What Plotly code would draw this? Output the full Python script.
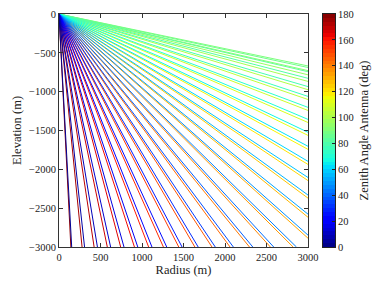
import numpy as np
import plotly.graph_objects as go

# ---- data (rays leaving the antenna at the origin) ----
# zenith angle of each ray (deg) and the point where it leaves the plotted box
zenith_deg = [3, 6, 9, 12, 15, 18, 21, 24, 27, 30, 33, 36, 39, 42, 45,
              48, 51, 54, 57, 60, 63, 66, 69, 72, 75, 78, 81, 84, 87, 90,
              93, 96, 99, 102, 105, 108, 111, 114, 117, 120, 123, 126, 129, 132,
              135, 138, 141, 144, 147, 150, 153, 156, 159, 162, 165, 168, 171, 174, 177]
end_radius_m = [153, 308, 463, 622, 783, 949, 1120, 1298, 1483, 1677, 1883, 2101, 2335, 2587, 2861,
                3000, 3000, 3000, 3000, 3000, 3000, 3000, 3000, 3000, 3000, 3000, 3000, 3000, 3000, 3000,
                3000, 3000, 3000, 3000, 3000, 3000, 3000, 3000, 3000, 3000, 3000, 3000, 3000, 3000,
                2821, 2547, 2295, 2061, 1843, 1637, 1443, 1258, 1080, 909, 743, 582, 423, 278, 143]
end_elevation_m = [-3000] * 15 + [
    -2847, -2577, -2331, -2105, -1897, -1703, -1523, -1357, -1202, -1061, -935, -828, -743, -689, -669,
    -729, -783, -868, -975, -1101, -1242, -1397, -1563, -1743, -1937, -2145, -2371, -2617, -2887] + [-3000] * 15

x_ticks = [0, 500, 1000, 1500, 2000, 2500, 3000]
x_tick_labels = ["0", "500", "1000", "1500", "2000", "2500", "3000"]
y_ticks = [0, -500, -1000, -1500, -2000, -2500, -3000]
y_tick_labels = ["0", "\u2212500", "\u22121000", "\u22121500", "\u22122000", "\u22122500", "\u22123000"]
cbar_ticks = [0, 20, 40, 60, 80, 100, 120, 140, 160, 180]
cmin, cmax = 0, 180
n_bands = 60


def jet(v):
    r = np.interp(v, [0, 0.35, 0.66, 0.89, 1], [0, 0, 1, 1, 0.5])
    g = np.interp(v, [0, 0.125, 0.375, 0.64, 0.91, 1], [0, 0, 1, 1, 0, 0])
    b = np.interp(v, [0, 0.11, 0.34, 0.65, 1], [0.5, 1, 1, 0, 0])
    return "rgb(%d,%d,%d)" % (round(r * 255), round(g * 255), round(b * 255))


jet_scale = [[s, jet(s)] for s in np.linspace(0, 1, 101)]

FONT = "Liberation Serif, DejaVu Serif, serif"
TXT = "#222"
W, H = 382, 286
ML, MR, MT, MB = 59, 10, 14, 39
PW = W - ML - MR


def px(xp):
    return (xp - ML) / PW


fig = go.Figure()
rays = sorted(zip(zenith_deg, end_radius_m, end_elevation_m), key=lambda r: -r[0])
for z, xe, ye in rays:
    fig.add_trace(go.Scatter(x=[0, xe], y=[0, ye], mode="lines",
                             line=dict(color=jet((z - cmin) / (cmax - cmin)), width=1),
                             showlegend=False, hoverinfo="skip", xaxis="x", yaxis="y"))

# colour bar drawn as a banded heat map on its own axes
band_edges = np.linspace(cmin, cmax, n_bands + 1)
band_centres = (band_edges[:-1] + band_edges[1:]) / 2
fig.add_trace(go.Heatmap(z=[[v] for v in band_centres], y=band_centres, x=[0],
                         colorscale=jet_scale, zmin=cmin, zmax=cmax, showscale=False,
                         hoverinfo="skip", xaxis="x2", yaxis="y2"))

axis_common = dict(showgrid=False, zeroline=False, showline=True, linecolor="#333", linewidth=1,
                   mirror="ticks", ticks="inside", ticklen=4, tickcolor="#333", automargin=False,
                   tickfont=dict(family=FONT, size=10.5, color=TXT))
fig.update_layout(
    width=W, height=H, margin=dict(l=ML, r=MR, t=MT, b=MB),
    paper_bgcolor="white", plot_bgcolor="white",
    xaxis=dict(domain=[0, px(308)], range=[0, 3000], tickvals=x_ticks, ticktext=x_tick_labels,
               title=dict(text="Radius (m)", font=dict(family=FONT, size=12.5, color=TXT), standoff=3),
               **axis_common),
    yaxis=dict(domain=[0, 1], range=[-3000, 0], tickvals=y_ticks, ticktext=y_tick_labels,
               title=dict(text="Elevation (m)", font=dict(family=FONT, size=12.5, color=TXT), standoff=4),
               **axis_common),
    xaxis2=dict(domain=[px(323), px(335)], range=[-0.5, 0.5], anchor="y2", showticklabels=False,
                showgrid=False, zeroline=False, showline=True, linecolor="#222", linewidth=1,
                mirror=True, ticks="", automargin=False),
    yaxis2=dict(domain=[0, 1], range=[cmin, cmax], anchor="x2", side="right",
                tickvals=cbar_ticks, ticks="inside", ticklen=3, tickcolor="#222",
                showgrid=False, zeroline=False, showline=True, linecolor="#222", linewidth=1,
                mirror=True, automargin=False,
                tickfont=dict(family=FONT, size=10.5, color=TXT),
                title=dict(text="Zenith Angle Antenna (deg)",
                           font=dict(family=FONT, size=12.5, color=TXT), standoff=6)),
)
fig.write_html("out.html", config={"displayModeBar": False},
               post_script="document.body.style.margin='0';")
